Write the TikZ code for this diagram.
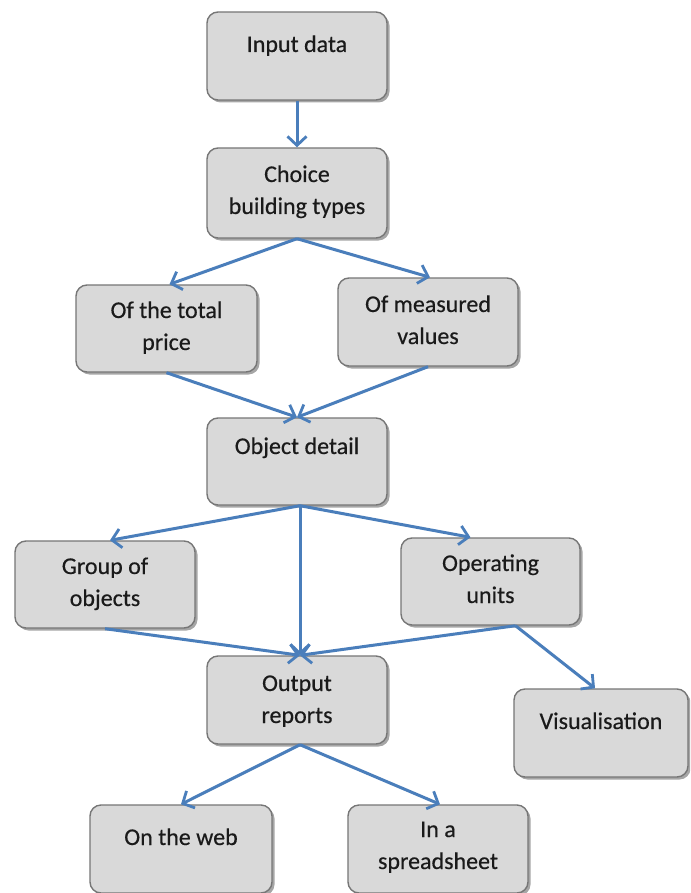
\documentclass[tikz,border=0pt]{standalone}
\usepackage{fontspec}
\setmainfont{Carlito}
\newfontfamily\lblfont{Carlito}[FakeBold=0.4]
\usetikzlibrary{arrows.meta,shadows}
\definecolor{boxfill}{HTML}{D9D9D9}
\definecolor{boxline}{HTML}{767676}
\definecolor{arrowblue}{HTML}{4A7EBB}
\definecolor{txt}{HTML}{1A1A1A}
\begin{document}
\begin{tikzpicture}[x=1pt,y=-1pt,
  box/.style={draw=boxline, line width=1.4pt, fill=boxfill, rounded corners=11pt,
    minimum width=180pt, minimum height=88pt, inner sep=0pt,
    drop shadow={shadow xshift=2.5pt, shadow yshift=-2.5pt, fill=black, opacity=0.35}},
  lbl/.style={anchor=base, inner sep=0pt, text=txt, font=\lblfont\fontsize{24}{32}\selectfont},
  conn/.style={draw=arrowblue, line width=3pt,
    -{Straight Barb[length=9pt,width=19pt,line width=2.8pt]}}]
\clip (0,0) rectangle (690,893);
\fill[white] (0,0) rectangle (690,893);
% boxes
\node[box] (inp) at (297,56) {};
\node[box, minimum height=90pt] (cho) at (297,193) {};
\node[box, minimum width=181pt, minimum height=87pt] (tot) at (166.5,328.5) {};
\node[box] (mea) at (428,322) {};
\node[box, minimum height=87pt] (obj) at (297,461.5) {};
\node[box, minimum height=87pt] (grp) at (105,584.5) {};
\node[box, minimum width=179pt, minimum height=87pt] (ope) at (490.5,581.5) {};
\node[box] (out) at (297,700) {};
\node[box, minimum width=174pt] (vis) at (601,733) {};
\node[box, minimum width=182pt] (web) at (181,849) {};
\node[box] (spr) at (438,849) {};
% texts
\node[lbl] (inpA) at (297,52) {Input data};
\node[lbl] (choA) at (297,182) {Choice};
\node[lbl] (choB) at (297,214) {building types};
\node[lbl] (totA) at (166.5,318) {Of the total};
\node[lbl] (totB) at (166.5,350) {price};
\node[lbl] (meaA) at (428,312) {Of measured};
\node[lbl] (meaB) at (428,344) {values};
\node[lbl] (objA) at (297,454) {Object detail};
\node[lbl] (grpA) at (105,574) {Group of};
\node[lbl] (grpB) at (105,606) {objects};
\node[lbl] (opeA) at (490.5,571) {Operating};
\node[lbl] (opeB) at (490.5,603) {units};
\node[lbl] (outA) at (297,691) {Output};
\node[lbl] (outB) at (297,723) {reports};
\node[lbl] (visA) at (601,729) {Visualisation};
\node[lbl] (webA) at (181,845) {On the web};
\node[lbl] (sprA) at (438,837) {In a};
\node[lbl] (sprB) at (438,869) {spreadsheet};
% connectors
\draw[conn] (inp.south) -- (cho.north);
\draw[conn] (cho.south) -- ([xshift=3pt]tot.north);
\draw[conn] (cho.south) -- ([xshift=2pt]mea.north);
\draw[conn] (tot.south) -- (obj.north);
\draw[conn] (mea.south) -- (obj.north);
\draw[conn] ([xshift=3pt]obj.south) -- ([xshift=5pt]grp.north);
\draw[conn] ([xshift=3pt]obj.south) -- ([xshift=3pt]out.north);
\draw[conn] ([xshift=3pt]obj.south) -- ([xshift=-20pt]ope.north);
\draw[conn] (grp.south) -- ([xshift=3pt]out.north);
\draw[conn] ([xshift=25pt]ope.south) -- ([xshift=3pt]out.north);
\draw[conn] ([xshift=25pt]ope.south) -- ([xshift=-6pt]vis.north);
\draw[conn] ([xshift=3pt]out.south) -- (web.north);
\draw[conn] ([xshift=3pt]out.south) -- ([xshift=2pt]spr.north);
\end{tikzpicture}
\end{document}
